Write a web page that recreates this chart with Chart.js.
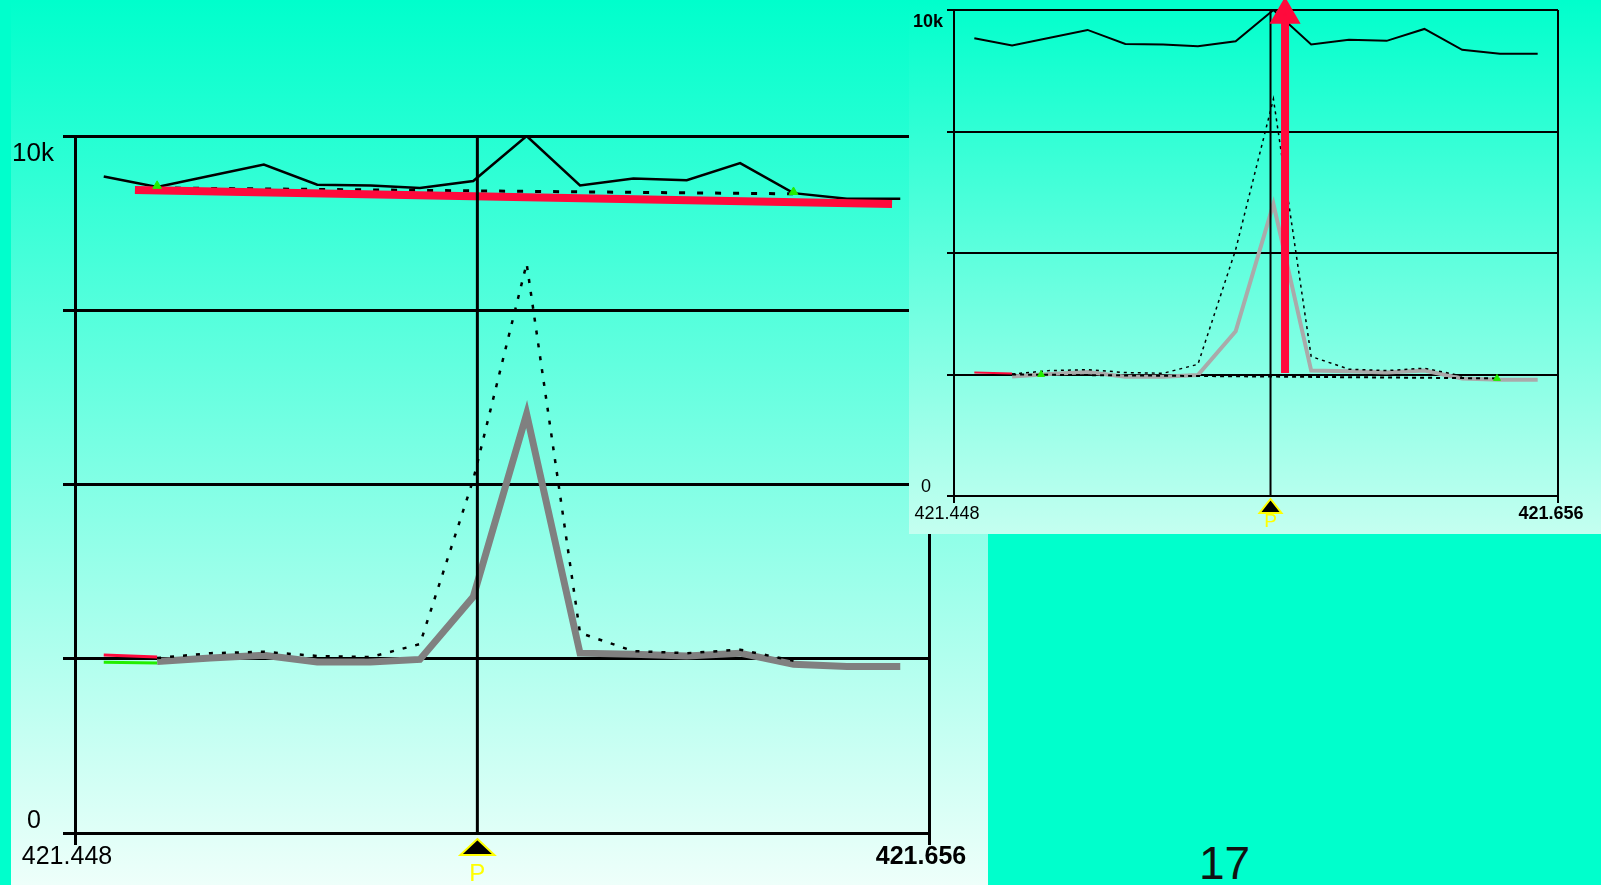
<!DOCTYPE html>
<html>
<head>
<meta charset="utf-8">
<script src="https://cdn.jsdelivr.net/npm/chart.js@4.4.1/dist/chart.umd.min.js"></script>
<style>
  html, body { margin: 0; padding: 0; }
  body {
    width: 1601px; height: 885px; overflow: hidden; position: relative;
    background: #00ffcc; font-family: "Liberation Sans", Arial, sans-serif;
  }
  #mainBox { position: absolute; left: 11px; top: 0; width: 977px; height: 885px;
    background: linear-gradient(#00ffcc, #eefffa); }
  #insetBox { position: absolute; left: 909px; top: 0; width: 692px; height: 534px;
    background: linear-gradient(#00ffcc, #c4fff0); }
  canvas { display: block; }
  #pageNo { position: absolute; left: 1199px; top: 840px; font-size: 46px; line-height: 46px; color: #111; }
</style>
</head>
<body>
<div id="mainBox"><canvas id="mainChart" width="977" height="885"></canvas></div>
<div id="insetBox"><canvas id="insetChart" width="692" height="534"></canvas></div>
<div id="pageNo">17</div>
<script>
// x range of both plots
const xMin = 421.448;
const xMax = 421.656;
const yTickLabels = ["0", "10k"];

// scan positions (m/z)
const xValues = [421.455, 421.468, 421.481, 421.494, 421.507, 421.520, 421.532, 421.545,
  421.558, 421.571, 421.584, 421.597, 421.610, 421.623, 421.636, 421.649];
// upper black trace
const totalTrace = [9420, 9270, 9430, 9590, 9300, 9290, 9255, 9355,
  10000, 9290, 9390, 9365, 9610, 9180, 9100, 9100];
// thick grey peak trace
const peakTrace = [null, 2460, 2510, 2550, 2455, 2455, 2490, 3390,
  6010, 2580, 2565, 2540, 2580, 2420, 2390, 2390];
// dotted peak trace
const dottedTrace = [null, 2510, 2580, 2600, 2540, 2525, 2710, 5070,
  8170, 2870, 2610, 2580, 2630, 2470, null, null];

// main plot extras
const mainMarkerX = 421.546;
const topBaseX = [421.468, 421.623];
const topBaseY = [9255, 9170];
const redFitX = [421.4626, 421.647];
const redFitY = [9225, 9024];
const greenTopY = [9285, 9197];
const lowRedY = [2555, 2525];
const lowGreenY = [2450, 2440];

// inset extras
const insetMarkerX = 421.557;
const arrowX = 421.562;
const arrowY = [2530, 9900];
const insetBaseX = [421.468, 421.635];
const insetBaseY = [2500, 2420];
const insetGreenX = [421.478, 421.635];
const lowRedInsetY = [2540, 2520];

const red = "#ff0a3c";
const green = "#22ee00";

const pts = (xs, ys) => ys.map((y, i) => ({ x: xs[i], y: y })).filter(p => p.y !== null);

// y labels and the "P" marker under the axis
const decor = {
  id: "decor",
  afterDraw(chart, args, o) {
    const ctx = chart.ctx;
    const a = chart.chartArea;
    ctx.save();
    ctx.fillStyle = "#000";
    ctx.textAlign = "left";
    ctx.textBaseline = "alphabetic";
    ctx.font = o.topFont;
    ctx.fillText(yTickLabels[1], a.left + o.topDx, a.top + o.topDy);
    ctx.font = o.zeroFont;
    ctx.fillText(yTickLabels[0], a.left + o.zeroDx, a.bottom + o.zeroDy);

    const px = chart.scales.x.getPixelForValue(o.markerX);
    ctx.beginPath();
    ctx.moveTo(px, a.bottom + o.triTop);
    ctx.lineTo(px + o.triHalf, a.bottom + o.triBase);
    ctx.lineTo(px - o.triHalf, a.bottom + o.triBase);
    ctx.closePath();
    ctx.fillStyle = "#000";
    ctx.fill();
    ctx.strokeStyle = "#ffff00";
    ctx.lineWidth = 2;
    ctx.stroke();
    ctx.fillStyle = "#ffff00";
    ctx.textAlign = "center";
    ctx.font = o.pFont;
    ctx.fillText("P", px, a.bottom + o.pDy);
    ctx.restore();
  }
};

function scalesFor(s) {
  return {
    x: {
      type: "linear", min: xMin, max: xMax,
      afterBuildTicks: (scale) => { scale.ticks = [{ value: xMin }, { value: xMax }]; },
      afterFit: (scale) => { scale.height = s.xHeight; },
      grid: { color: "#000", lineWidth: s.line, tickLength: s.tick },
      border: { color: "#000", width: s.line },
      ticks: {
        color: "#000", padding: s.pad, maxRotation: 0, autoSkip: false, labelOffset: s.shift,
        font: (c) => ({ family: "Liberation Sans, Arial", size: s.font, weight: c.index === 1 ? "bold" : "normal" }),
        callback: (v) => v.toFixed(3)
      }
    },
    y: {
      min: 0, max: 10000, z: s.z,
      afterFit: (scale) => { scale.width = s.yWidth; },
      grid: { color: "#000", lineWidth: s.line, tickLength: s.tick },
      border: { color: "#000", width: s.line },
      ticks: { stepSize: 2500, display: false }
    }
  };
}

const baseOpts = {
  responsive: false,
  animation: false,
  events: [],
  elements: { point: { radius: 0 }, line: { tension: 0, borderCapStyle: "butt" } }
};

//Main plot
new Chart(document.getElementById("mainChart"), {
  type: "line",
  plugins: [decor],
  data: {
    datasets: [
      { data: [{ x: mainMarkerX, y: 0 }, { x: mainMarkerX, y: 10000 }], borderColor: "#000", borderWidth: 3, order: 0 },
      { data: pts(redFitX, redFitY), borderColor: red, borderWidth: 8, order: 1 },
      { data: pts(topBaseX, greenTopY), showLine: false, pointRadius: 5, pointStyle: "triangle",
        backgroundColor: green, borderColor: green, order: 0 },
      { data: pts(topBaseX, topBaseY), borderColor: "#000", borderWidth: 3, borderDash: [6, 12], order: 2 },
      { data: pts(xValues, totalTrace), borderColor: "#000", borderWidth: 2.5, order: 3 },
      { data: pts(xValues, dottedTrace), borderColor: "#000", borderWidth: 2.5, borderDash: [4, 9], order: 2 },
      { data: pts(xValues.slice(0, 2), lowRedY), borderColor: red, borderWidth: 3, order: 2 },
      { data: pts(xValues.slice(0, 2), lowGreenY), borderColor: green, borderWidth: 3, order: 2 },
      { data: pts(xValues, peakTrace), borderColor: "#808080", borderWidth: 7, order: 4 }
    ]
  },
  options: Object.assign({}, baseOpts, {
    layout: { autoPadding: false, padding: { top: 136, right: 59, bottom: 0, left: 0 } },
    scales: scalesFor({ xHeight: 52, yWidth: 64, line: 3, tick: 12, pad: -3, font: 25, z: 1, shift: -8 }),
    plugins: {
      legend: { display: false },
      tooltip: { enabled: false },
      decor: {
        topFont: "26px Liberation Sans, Arial", zeroFont: "25px Liberation Sans, Arial",
        topDx: -63, topDy: 25, zeroDx: -48, zeroDy: -5,
        markerX: mainMarkerX, triTop: 6, triBase: 22, triHalf: 17,
        pFont: "24px Liberation Sans, Arial", pDy: 48
      }
    }
  })
});

//Inset plot
new Chart(document.getElementById("insetChart"), {
  type: "line",
  plugins: [decor],
  data: {
    datasets: [
      { data: [{ x: insetMarkerX, y: 0 }, { x: insetMarkerX, y: 10000 }], borderColor: "#000", borderWidth: 2, order: 1 },
      { data: pts([arrowX, arrowX], arrowY), borderColor: red, borderWidth: 8, clip: false,
        pointRadius: [0, 10], pointStyle: "triangle", backgroundColor: red, pointBorderColor: red, order: 0 },
      { data: pts(xValues, totalTrace), borderColor: "#000", borderWidth: 2, order: 2 },
      { data: pts(xValues, dottedTrace), borderColor: "#000", borderWidth: 1.5, borderDash: [3, 4], order: 2 },
      { data: pts(insetBaseX, insetBaseY), borderColor: "#000", borderWidth: 2, borderDash: [4, 4], order: 2 },
      { data: pts(insetGreenX, insetBaseY), showLine: false, pointRadius: 4, pointStyle: "triangle",
        backgroundColor: green, borderColor: green, order: 1 },
      { data: pts(xValues.slice(0, 2), lowRedInsetY), borderColor: red, borderWidth: 2, order: 2 },
      { data: pts(xValues, peakTrace), borderColor: "#aaaaaa", borderWidth: 4, order: 3 }
    ]
  },
  options: Object.assign({}, baseOpts, {
    layout: { autoPadding: false, padding: { top: 10, right: 43, bottom: 0, left: 0 } },
    scales: scalesFor({ xHeight: 38, yWidth: 45, line: 2, tick: 7, pad: 0, font: 18, z: 0, shift: -7 }),
    plugins: {
      legend: { display: false },
      tooltip: { enabled: false },
      decor: {
        topFont: "bold 18px Liberation Sans, Arial", zeroFont: "18px Liberation Sans, Arial",
        topDx: -41, topDy: 17, zeroDx: -33, zeroDy: -4,
        markerX: insetMarkerX, triTop: 3, triBase: 17, triHalf: 11,
        pFont: "19px Liberation Sans, Arial", pDy: 31
      }
    }
  })
});
</script>
</body>
</html>
